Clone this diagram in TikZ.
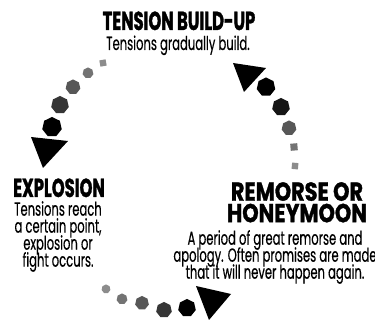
\documentclass[tikz,border=0pt]{standalone}
\usepackage{fontspec}
\setmainfont{Poppins}[FakeStretch=0.61, FakeBold=0.4]
\newfontfamily\headfont{Poppins}[FakeStretch=0.63, FakeBold=1.2]
\newfontfamily\headwide{Poppins}[FakeStretch=0.80, FakeBold=1.2]
\usetikzlibrary{shapes.geometric}
\definecolor{ga}{HTML}{8C8C8C}
\definecolor{gb}{HTML}{737373}
\definecolor{gc}{HTML}{575757}
\definecolor{gd}{HTML}{363636}
\definecolor{ge}{HTML}{161616}
\newcommand\tightlines{\lineskiplimit-100pt\relax}
\tikzset{
  dot/.style={regular polygon, regular polygon sides=7, inner sep=0pt, minimum size=#1, draw=none},
  sq/.style={regular polygon, regular polygon sides=4, inner sep=0pt, minimum size=#1, draw=none},
  head/.style={inner sep=0pt, align=center, font={\headfont\bfseries\fontsize{26}{22}\selectfont\tightlines}},
  headw/.style={inner sep=0pt, align=center, font={\headwide\bfseries\fontsize{26}{21.5}\selectfont\tightlines}},
  body/.style={inner sep=0pt, align=center, font={\fontsize{19}{17}\selectfont\tightlines}},
  tri/.style={fill=black, draw=none}
}
\begin{document}
\begin{tikzpicture}[x=1pt,y=-1pt]
\useasboundingbox (0,0) rectangle (375,320);
% titles
\node[head, anchor=base] (t1) at (179,30) {TENSION BUILD-UP};
\node[body, anchor=base] (t2) at (178,50) {Tensions gradually build.};
\node[head, anchor=base] (e1) at (59,197) {EXPLOSION};
\node[body, anchor=north] (e2) at (58,201) {Tensions reach\\a certain point,\\explosion or\\fight occurs.};
\node[headw, anchor=north] (r1) at (297,182) {REMORSE OR\\HONEYMOON};
\node[body, anchor=north] (r3) at (275,230) {A period of great remorse and\\apology. Often promises are made\\that it will never happen again.};
% top-left arc
\node[sq=9, fill=ga, rotate=10] (a1) at (103,63) {};
\node[dot=11, fill=gb] (a2) at (88,73) {};
\node[dot=15, fill=gc] (a3) at (73,87) {};
\node[dot=18, fill=gd] (a4) at (60,105) {};
\node[dot=20, fill=black] (a5) at (52,127) {};
\fill[tri] (31,137) -- (68,141) -- (43,168) -- cycle;
% right arc
\fill[tri] (233,63) -- (266,68) -- (244,92) -- cycle;
\node[dot=19, fill=black] (b1) at (266,87) {};
\node[dot=18, fill=ge] (b2) at (281,107) {};
\node[dot=15, fill=gc] (b3) at (289,128) {};
\node[sq=10, fill=gb, rotate=5] (b4) at (294,147) {};
\node[sq=9, fill=ga, rotate=-5] (b5) at (295,166) {};
% bottom arc
\node[dot=9, fill=ga] (c1) at (106,289) {};
\node[dot=11, fill=gb] (c2) at (122,299) {};
\node[dot=14, fill=gc] (c3) at (142,303) {};
\node[dot=16, fill=gd] (c4) at (164,310) {};
\node[dot=18, fill=black] (c5) at (187,308) {};
\fill[tri] (196,286) -- (231,294) -- (209,320) -- cycle;
\end{tikzpicture}
\end{document}
